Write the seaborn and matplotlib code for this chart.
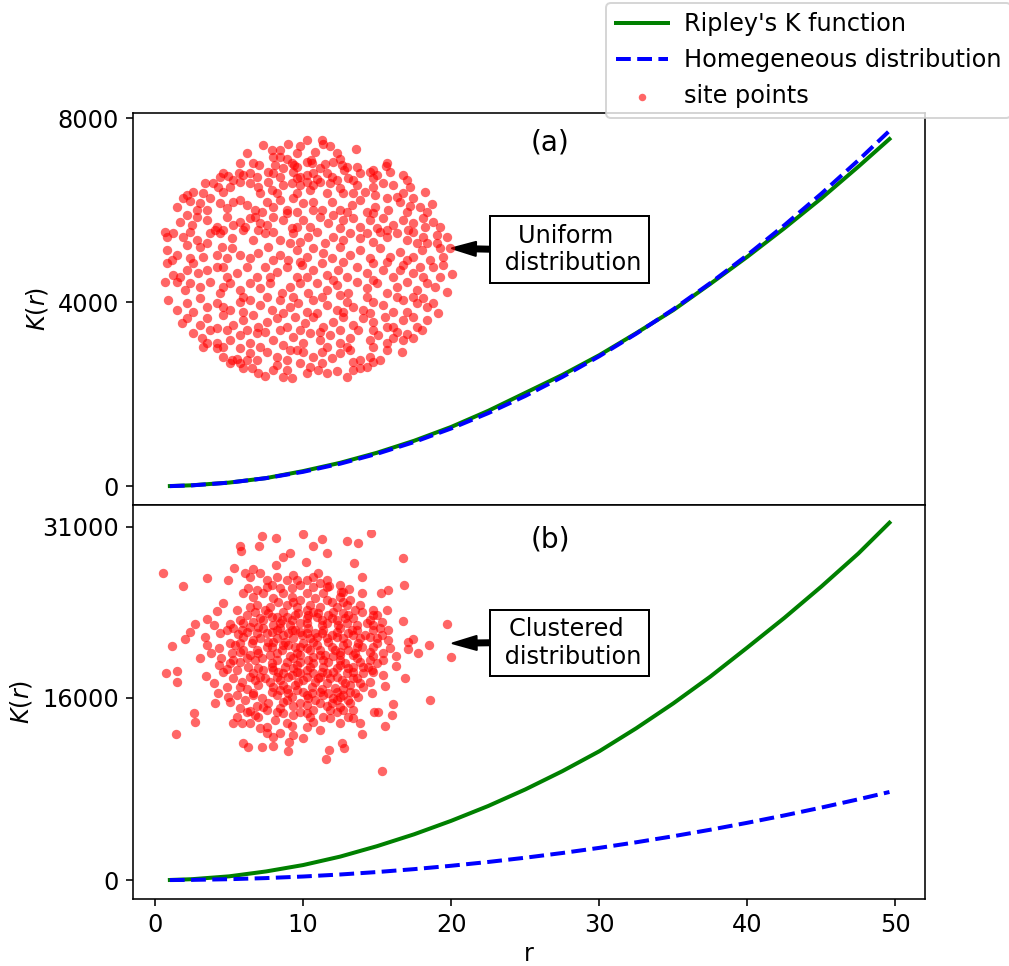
import numpy as np
import pandas as pd
import matplotlib
matplotlib.use("Agg")
import matplotlib.pyplot as plt
import seaborn as sns

# ---------------- data ----------------
r = [1, 2.5, 5, 7.5, 10, 12.5, 15, 17.5, 20, 22.5, 25, 27.5, 30, 32.5, 35,
     37.5, 40, 42.5, 45, 47.5, 49.6]
k_uniform = [5, 22, 80, 178, 330, 510, 730, 990, 1290, 1640, 2030, 2420, 2850,
             3330, 3830, 4400, 4990, 5610, 6260, 6950, 7550]
k_homog = [3, 20, 79, 177, 314, 491, 707, 962, 1257, 1590, 1963, 2376, 2827,
           3318, 3848, 4418, 5027, 5675, 6362, 7088, 7729]
k_cluster = [10, 80, 330, 760, 1320, 2060, 2980, 4020, 5200, 6500, 7950, 9550,
             11300, 13320, 15500, 17850, 20400, 23000, 25750, 28650, 31350]

yticks_a = [0, 4000, 8000]
yticks_b = [0, 16000, 31000]

# site point coordinates (arbitrary site units, y measured downwards)
uniform_sites = [
    (370,45),(445,42),(480,48),(500,30),(545,30),(548,42),(570,48),(648,57),(320,68),(420,60),
    (300,100),(340,100),(358,105),(400,82),(405,105),(420,80),(440,88),(455,100),(462,105),(500,95),
    (512,90),(515,100),(555,102),(580,95),(600,88),(605,105),(620,112),(650,110),(700,120),(740,98),(738,108),
    (250,128),(265,138),(240,140),(298,130),(310,135),(330,128),(350,140),(385,125),(400,128),(430,115),
    (460,125),(470,145),(480,140),(500,135),(520,130),(530,148),(560,128),(590,150),(612,120),(625,145),
    (690,125),(710,135),(700,145),(790,135),(800,150),(220,160),(195,160),
    (160,185),(140,195),(130,205),(190,190),(210,205),(250,185),(300,155),(330,160),(355,172),(360,190),
    (385,155),(395,180),(430,165),(455,158),(480,165),(500,155),(520,165),(510,180),(540,155),(570,160),
    (600,175),(610,190),(650,165),(700,172),(705,195),(760,165),(790,190),(855,185),(820,205),(770,200),(740,205),
    (110,230),(150,212),(180,220),(200,240),(240,220),(280,215),(300,210),(320,225),(345,240),(380,215),
    (400,230),(420,210),(440,240),(460,205),(490,220),(520,215),(545,240),(575,215),(600,240),(635,225),
    (660,210),(705,230),(745,240),(780,215),(810,228),(840,230),(875,222),(700,250),
    (120,275),(155,285),(170,260),(230,290),(260,260),(280,285),(300,275),(330,265),(345,260),(360,280),
    (400,260),(430,270),(440,250),(470,290),(490,270),(510,290),(540,260),(565,280),(580,255),(610,270),
    (640,265),(660,290),(690,270),(730,265),(760,285),(790,270),(820,280),(850,265),(855,290),(880,275),
    (250,300),(225,300),
    (75,305),(80,320),(100,310),(130,320),(170,330),(200,340),(240,310),(275,325),(310,300),(340,330),
    (375,310),(400,305),(420,330),(460,310),(480,335),(505,320),(530,305),(555,340),(580,320),(610,330),
    (630,310),(660,325),(700,335),(740,320),(770,310),(800,330),(850,320),(890,315),(920,320),(930,355),(890,340),
    (80,360),(110,375),(140,345),(180,350),(190,380),(245,350),(275,355),(300,375),(330,385),(355,370),
    (385,350),(420,375),(445,390),(470,360),(500,380),(520,355),(550,370),(575,385),(600,350),(630,375),
    (660,360),(690,385),(720,355),(750,380),(780,365),(820,380),(845,360),(870,390),(900,355),(830,340),
    (80,400),(100,435),(120,440),(160,400),(175,430),(200,420),(230,410),(260,440),(290,430),(320,410),
    (350,440),(375,410),(410,425),(440,410),(470,440),(485,405),(520,420),(545,400),(560,435),(595,420),
    (620,440),(650,410),(680,430),(700,400),(730,420),(760,440),(790,405),(820,430),(850,440),(880,410),
    (910,405),(935,432),(840,410),
    (75,455),(110,455),(135,480),(180,470),(210,455),(240,490),(270,460),(300,480),(330,460),(360,475),
    (390,460),(425,490),(450,470),(480,460),(505,490),(530,460),(560,480),(590,465),(625,490),(650,455),
    (680,475),(710,460),(740,490),(770,470),(800,455),(830,480),(860,460),(920,485),(885,470),
    (85,510),(140,520),(180,505),(200,530),(230,520),(270,540),(300,515),(330,510),(360,525),(395,540),
    (420,510),(450,530),(475,520),(500,545),(520,510),(560,525),(590,540),(620,515),(640,530),(670,540),
    (700,515),(730,525),(760,545),(790,510),(830,520),(860,530),(895,550),(850,505),
    (125,580),(140,565),(200,565),(230,595),(250,555),(280,585),(310,570),(340,555),(355,590),(380,575),
    (410,565),(440,590),(465,560),(495,580),(520,560),(550,590),(580,575),(610,560),(640,585),(670,565),
    (700,575),(735,560),(760,590),(790,570),(830,590),(860,570),(770,605),
    (160,610),(185,625),(210,600),(230,640),(270,630),(300,615),(330,640),(350,610),(375,605),(400,630),
    (430,645),(460,620),(490,640),(510,610),(540,630),(570,615),(600,640),(630,625),(655,600),(690,630),
    (715,615),(740,640),(790,630),(820,625),(845,600),(800,612),
    (190,650),(250,680),(275,690),(300,655),(330,670),(350,690),(380,665),(410,680),(440,690),(470,660),
    (490,665),(520,680),(545,665),(575,685),(600,670),(630,660),(660,690),(690,680),(720,690),(740,660),
    (785,665),(230,655),
    (310,715),(335,715),(355,728),(375,738),(410,705),(440,720),(455,745),(480,700),(510,710),(535,720),
    (545,700),(560,728),(590,722),(640,720),(660,715),(680,710),(700,695),(270,700),(290,688),
    (395,60),(470,70),(525,65),(590,70),(470,110),(540,115),(660,130),(750,125),(280,150),(420,140),
    (575,140),(640,150),(730,160),(235,170),(270,170),(410,190),(470,190),(560,190),(640,190),(675,185),
    (810,170),(170,240),(260,235),(365,245),(470,245),(520,240),(620,245),(680,245),(800,245),(860,245),
    (140,255),(200,270),(315,290),(380,285),(455,295),(600,295),(710,295),(740,300),(805,300),(900,290),
    (150,305),(210,310),(355,300),(450,340),(680,310),(720,305),(820,305),(860,340),(95,390),(150,385),
    (230,375),(260,385),(400,390),(480,395),(610,395),(740,395),(800,390),(910,380),(140,420),(250,410),
    (390,440),(500,440),(580,450),(700,450),(780,420),(900,440),(150,460),(250,470),(310,500),(380,500),
    (460,500),(545,500),(600,495),(680,500),(770,500),(820,500),(110,540),(160,545),(250,530),(310,545),
    (430,550),(530,550),(610,545),(690,550),(800,545),(880,520),(180,585),(260,600),(320,600),(420,600),
    (480,600),(540,605),(600,600),(700,600),(740,590),(820,560),(200,640),(250,650),(320,690),(360,650),
    (450,660),(560,650),(620,650),(700,650),(760,625),(640,695),(400,720),(500,730),(620,740),(300,700),
    (430,740),
]

cluster_sites = [
    (70,130),(128,168),(202,145),(263,150),(300,48),(303,62),(357,48),(367,18),(408,25),(490,12),
    (518,48),(545,28),(560,68),(620,32),(655,40),(693,8),(643,100),(665,140),(790,85),(793,165),
    (745,180),(722,188),(790,272),(920,282),(868,345),(805,335),(818,328),(803,357),(833,370),(933,382),
    (795,445),(768,408),(870,510),(758,522),(755,555),(736,588),(725,722),(667,612),(640,565),(605,640),
    (612,655),(568,660),(558,687),(490,625),(445,662),(447,637),(398,648),(365,650),(325,652),(308,640),
    (280,578),(307,578),(165,577),(162,550),(108,613),(110,455),(78,428),(110,423),(96,347),(136,327),
    (150,305),(166,283),(202,268),(222,285),(230,242),(248,218),(270,283),(282,113),(315,128),(340,118),
    (408,105),(428,80),(450,68),(497,95),(535,130),(568,168),(628,178),(603,185),(665,190),(698,255),
    (742,240),(720,295),(745,330),(768,378),(695,420),(730,435),(735,467),(697,490),(715,545),(702,545),
    (660,580),(630,520),(610,540),(655,500),(590,510),(570,565),(540,600),(520,575),(500,548),(455,587),
    (460,615),(420,610),(400,620),(380,610),(360,595),(345,555),(330,542),(300,535),(270,515),(265,500),
    (235,490),(225,520),(222,458),(198,438),(180,383),(212,368),(243,385),(237,405),(262,418),(280,390),
    (300,365),(238,355),(270,340),(295,312),(240,310),(262,300),(195,322),(200,345),
    (330,140),(360,130),(380,150),(410,140),(440,150),(460,135),(480,165),(500,150),(520,140),(540,160),
    (380,170),(420,175),(455,175),(520,170),(560,170),(600,165),
    (310,190),(340,200),(370,190),(400,205),(430,190),(455,200),(480,210),(500,190),(525,205),(550,190),
    (575,215),(600,200),(630,210),(660,225),(350,225),(390,230),(440,225),(470,230),(510,225),(540,230),
    (590,230),(620,225),
    (290,240),(320,255),(345,245),(360,265),(385,250),(410,260),(430,245),(455,270),(475,250),(500,265),
    (520,245),(545,270),(565,255),(590,270),(610,250),(640,265),(665,245),(690,270),(710,255),(300,270),
    (340,275),(420,280),(480,280),(560,280),(620,280),(680,280),(725,275),
    (280,295),(305,300),(330,290),(350,310),(370,295),(395,305),(420,295),(445,310),(465,300),(485,315),
    (505,295),(525,310),(550,300),(575,315),(600,295),(625,310),(650,300),(675,315),(700,300),(725,315),
    (745,300),(360,325),(410,325),(460,325),(510,325),(560,325),(610,325),(660,325),(710,325),(310,320),
    (285,345),(310,360),(335,340),(355,370),(380,350),(400,335),(425,360),(445,345),(470,370),(490,340),
    (510,360),(530,345),(555,375),(575,350),(600,365),(620,340),(645,370),(665,350),(690,365),(710,340),
    (730,370),(750,355),(330,375),(390,375),(450,378),(520,380),(580,378),(640,375),(700,378),(275,370),
    (270,400),(300,395),(325,410),(345,390),(370,420),(395,400),(415,425),(440,395),(460,415),(480,395),
    (500,420),(520,400),(545,425),(565,395),(590,415),(615,400),(640,425),(660,395),(685,410),(710,400),
    (700,425),(250,425),(340,428),(480,430),(560,430),(620,430),
    (280,445),(305,455),(330,440),(355,465),(375,445),(400,470),(420,450),(445,440),(465,465),(490,450),
    (515,470),(535,445),(560,460),(585,475),(605,450),(630,465),(650,445),(670,470),(690,455),(260,470),
    (320,478),(440,478),(545,478),(610,478),
    (290,495),(315,510),(340,490),(365,505),(385,520),(410,495),(430,515),(455,500),(480,520),(500,495),
    (525,510),(550,495),(575,520),(600,500),(625,510),(645,490),(350,528),(460,528),(560,528),
    (320,545),(355,560),(380,540),(405,570),(430,550),(480,545),(520,540),(550,560),(590,545),(625,560),
    (380,590),(330,580),
    (325,175),(395,165),(470,150),(560,150),(610,185),(350,180),(415,215),(460,215),(560,210),(610,215),
    (645,240),(330,230),(375,240),(440,260),(500,240),(530,260),(580,245),(625,255),(700,240),(310,280),
    (355,290),(400,285),(450,285),(500,280),(545,285),(595,285),(650,285),(700,285),(320,305),(380,310),
    (430,315),(480,305),(530,320),(590,305),(640,315),(690,320),(340,330),(385,335),(435,335),(480,350),
    (520,335),(565,335),(610,345),(655,340),(700,350),(300,340),(320,385),(365,385),(410,390),(460,385),
    (505,390),(550,390),(600,390),(650,385),(690,390),(730,390),(290,420),(355,415),(400,420),(430,430),
    (470,425),(520,430),(580,425),(640,410),(670,430),(300,470),(345,450),(390,455),(430,465),(475,455),
    (525,455),(570,445),(615,460),(660,460),(340,495),(395,485),(445,490),(490,485),(540,485),(590,485),
    (630,485),(370,530),(420,535),(500,525),(540,520),(600,530),(410,545),(460,555),(510,560),(570,540),
    (440,580),(500,590),(600,580),(290,560),(640,540),
    (395,260),(425,270),(465,255),(505,255),(535,250),(575,265),(615,265),(410,300),(455,300),(500,310),
    (545,310),(590,320),(635,300),(395,350),(430,345),(465,350),(500,355),(540,360),(585,360),(625,360),
    (410,370),(480,375),(540,375),(600,375),(395,410),(435,410),(470,405),(510,410),(550,410),(600,405),
    (625,415),(410,440),(455,435),(500,440),(540,440),(590,440),(640,445),(420,480),(470,480),(515,490),
    (565,490),(610,495),(440,510),(505,505),(580,505),(360,440),(350,360),(650,350),(670,410),(370,270),
]

# ---------------- style ----------------
sns.set_style("ticks", {"axes.edgecolor": "black", "text.color": "black",
                        "axes.labelcolor": "black", "xtick.color": "black",
                        "ytick.color": "black"})
plt.rcParams["font.family"] = ["DejaVu Sans"]
plt.rcParams["font.size"] = 12
plt.rcParams["lines.solid_capstyle"] = "projecting"
plt.rcParams["patch.force_edgecolor"] = False

df = pd.DataFrame({"r": r, "k_uniform": k_uniform, "k_homog": k_homog,
                   "k_cluster": k_cluster})

W, H = 1009, 966
fig = plt.figure(figsize=(W / 144, H / 144), dpi=144)
ax1 = fig.add_axes([133 / W, 1 - 505 / H, 792 / W, 392.3 / H])
ax2 = fig.add_axes([133 / W, 1 - 899 / H, 792 / W, 394 / H])

for ax, kcol in [(ax1, "k_uniform"), (ax2, "k_cluster")]:
    sns.lineplot(data=df, x="r", y=kcol, ax=ax, color="green", linewidth=2,
                 label="Ripley's K function", legend=False)
    sns.lineplot(data=df, x="r", y="k_homog", ax=ax, color="blue", linewidth=2,
                 linestyle="--", label="Homegeneous distribution", legend=False)
    ax.set_xlim(-1.49, 52.0)
    ax.set_ylabel("$K(r)$", fontsize=12)
    ax.tick_params(labelsize=12, length=3.5, width=0.8)
    for s in ax.spines.values():
        s.set_linewidth(0.8)
        s.set_visible(True)

ax1.set_ylim(-407, 8122)
ax1.set_yticks(yticks_a)
ax1.set_xlabel("")
ax1.tick_params(axis="x", bottom=False, labelbottom=False)
ax2.set_ylim(-1658, 32903)
ax2.set_yticks(yticks_b)
ax2.set_xticks([0, 10, 20, 30, 40, 50])
ax2.set_xlabel("r", fontsize=12, labelpad=2.5)

ax1.text(26.7, 7470, "(a)", ha="center", va="center", fontsize=14)
ax2.text(26.7, 29900, "(b)", ha="center", va="center", fontsize=14)

arrow_kw = dict(facecolor="black", edgecolor="black", width=2.5, headwidth=7,
                headlength=12, shrink=0)
box_kw = dict(boxstyle="square,pad=0.3", fc="white", ec="black", lw=1)
ax1.annotate("Uniform \n distribution", xy=(20.05, 5174), xytext=(28.0, 5150),
             ha="center", va="center", fontsize=12, bbox=box_kw,
             arrowprops=arrow_kw)
ax2.annotate("Clustered \n distribution", xy=(20.1, 20770), xytext=(28.0, 20830),
             ha="center", va="center", fontsize=12, bbox=box_kw,
             arrowprops=arrow_kw)

# site point insets
u = np.array(uniform_sites, dtype=float)
c = np.array(cluster_sites, dtype=float)
axin1 = fig.add_axes([140 / W, 1 - 390 / H, 330 / W, 260 / H])
axin2 = fig.add_axes([140 / W, 1 - 780 / H, 330 / W, 250 / H])
for axin, pts, ymax in [(axin1, u, 780), (axin2, c, 750)]:
    sns.scatterplot(x=pts[:, 0], y=pts[:, 1], ax=axin, color="red", s=22,
                    alpha=0.6, linewidth=0, label="site points", legend=False)
    axin.set_xlim(0, 990)
    axin.set_ylim(ymax, 0)
    axin.axis("off")

handles, labels = ax1.get_legend_handles_labels()
sh, sl = axin1.get_legend_handles_labels()
fig.legend(handles + sh, labels + sl, loc="upper left",
           bbox_to_anchor=(606 / W, 1 - 2.7 / H), borderaxespad=0,
           fontsize=12, handlelength=2.2, handletextpad=0.65, scatterpoints=1,
           markerscale=0.8, frameon=True, labelspacing=0.5)

fig.savefig("out.png", dpi=144)
